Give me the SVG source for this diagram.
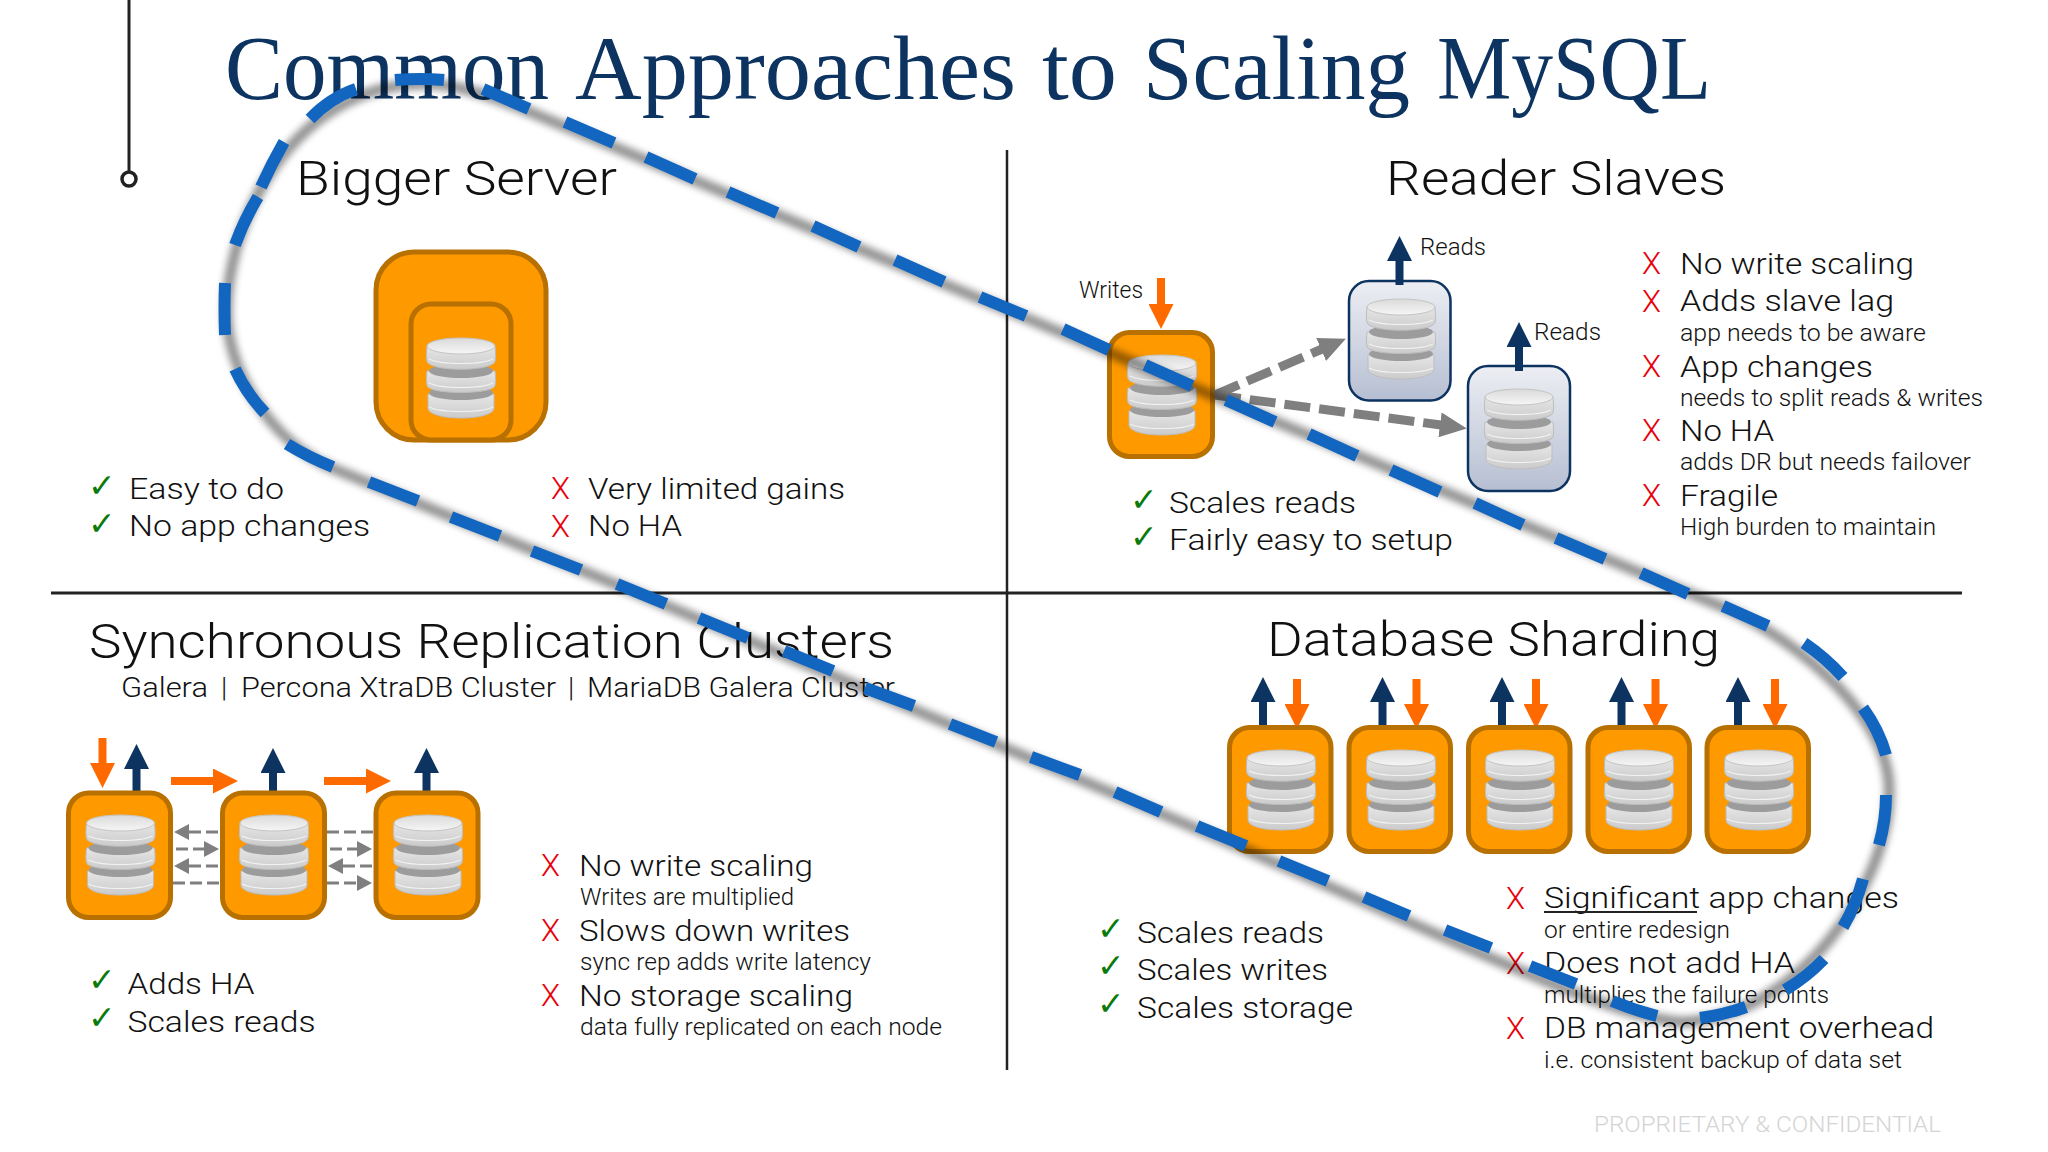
<svg xmlns="http://www.w3.org/2000/svg" width="2048" height="1152" viewBox="0 0 2048 1152">
<style>
text{font-family:Roboto,"Liberation Sans",sans-serif;font-weight:300;fill:#111;}
.title{font-family:"Liberation Serif",serif;font-weight:400;font-size:90px;fill:#0d3360;}
.h{font-size:48px;}
.m{font-size:30px;}
.s{font-size:23px;}
.x{font-size:31px;fill:#e8000a;}
.c{font-family:"DejaVu Sans",sans-serif;font-weight:400;font-size:33px;fill:#0a7a0a;}
.foot{font-size:22px;fill:#d4d4d4;}
.node{fill:#ff9900;stroke:#b87000;stroke-width:5;}
.slave{fill:url(#sl);stroke:#0d3360;stroke-width:2.5;}
.rule{stroke:#222;fill:none;}
.up{stroke:#0d3360;stroke-width:8;marker-end:url(#hn);}
.dn{stroke:#ff6a00;stroke-width:8;marker-end:url(#ho);}
.gb{stroke:#7f7f7f;stroke-width:9;stroke-dasharray:26 9;marker-end:url(#hg);fill:none;}
.gs{stroke:#7f7f7f;stroke-width:3;stroke-dasharray:12 5;fill:none;}
.gh{stroke:#7f7f7f;stroke-width:3;stroke-dasharray:12 5;fill:none;marker-end:url(#hs);}
</style>
<defs>
<linearGradient id="sl" x1="0" y1="0" x2="0" y2="1"><stop offset="0" stop-color="#eceef3"/><stop offset="1" stop-color="#b6bfd2"/></linearGradient>
<linearGradient id="dk" x1="0" y1="0" x2="0" y2="1"><stop offset="0" stop-color="#e6e6e6"/><stop offset="1" stop-color="#cbcbcb"/></linearGradient>
<linearGradient id="tp" x1="0" y1="0" x2="0" y2="1"><stop offset="0" stop-color="#dadada"/><stop offset="1" stop-color="#f6f6f6"/></linearGradient>
<filter id="bl" x="-10%" y="-10%" width="120%" height="120%"><feGaussianBlur stdDeviation="3.500"/></filter>
<marker id="hn" viewBox="0 0 25 25" refX="1" refY="12.5" markerUnits="userSpaceOnUse" markerWidth="25" markerHeight="25" orient="auto"><path d="M0 0L25 12.5L0 25Z" fill="#0d3360"/></marker>
<marker id="ho" viewBox="0 0 25 25" refX="1" refY="12.5" markerUnits="userSpaceOnUse" markerWidth="25" markerHeight="25" orient="auto"><path d="M0 0L25 12.5L0 25Z" fill="#ff6a00"/></marker>
<marker id="hg" viewBox="0 0 27 25" refX="1" refY="12.5" markerUnits="userSpaceOnUse" markerWidth="27" markerHeight="25" orient="auto"><path d="M0 0L27 12.5L0 25Z" fill="#7f7f7f"/></marker>
<marker id="hs" viewBox="0 0 15 16" refX="1" refY="8" markerUnits="userSpaceOnUse" markerWidth="15" markerHeight="16" orient="auto"><path d="M0 0L15 8L0 16Z" fill="#7f7f7f"/></marker>
<symbol id="db" width="70" height="80" viewBox="0 0 70 80" overflow="visible">
<path d="M2 56V70C2 76 16 80 35 80S68 76 68 70V56Z" fill="url(#dk)" stroke="#bdbdbd"/>
<path d="M3 69C15 75 55 75 67 69" fill="none" stroke="#f2f2f2" stroke-width="1.200"/>
<ellipse cx="35" cy="55" rx="32" ry="7" fill="#9c9c9c"/>
<path d="M1 33C0 44 0 48 3 50C14 56 56 56 67 50C70 48 70 44 69 33Z" fill="url(#dk)" stroke="#bdbdbd"/>
<path d="M3 45C15 51 55 51 67 45" fill="none" stroke="#f2f2f2" stroke-width="1.200"/>
<ellipse cx="35" cy="33" rx="32" ry="7" fill="#9c9c9c"/>
<path d="M1 8C0 20 0 24 3 26C14 33 56 33 67 26C70 24 70 20 69 8Z" fill="url(#dk)" stroke="#bdbdbd"/>
<path d="M3 21C15 27 55 27 67 21" fill="none" stroke="#f2f2f2" stroke-width="1.200"/>
<ellipse cx="35" cy="8" rx="34" ry="8" fill="url(#tp)" stroke="#c4c4c4"/>
</symbol>
</defs>
<rect width="2048" height="1152" fill="#fff"/>
<g id="frame">
<line class="rule" x1="129" y1="0" x2="129" y2="172" stroke-width="3"/>
<circle class="rule" cx="129" cy="179" r="7" stroke-width="3.500"/>
<line class="rule" x1="51" y1="593" x2="1962" y2="593" stroke-width="3"/>
<line class="rule" x1="1007" y1="150" x2="1007" y2="1070" stroke-width="2.500"/>
</g>
<text class="title" y="99"><tspan x="225" textLength="324" lengthAdjust="spacingAndGlyphs">Common</tspan> <tspan x="575" textLength="441" lengthAdjust="spacingAndGlyphs">Approaches</tspan> <tspan x="1042" textLength="75" lengthAdjust="spacingAndGlyphs">to</tspan> <tspan x="1143" textLength="267" lengthAdjust="spacingAndGlyphs">Scaling</tspan> <tspan x="1437" textLength="274" lengthAdjust="spacingAndGlyphs">MySQL</tspan></text>

<text class="h" x="296" y="195" textLength="321" lengthAdjust="spacingAndGlyphs">Bigger Server</text>
<g id="bigger-server">
<rect class="node" x="376" y="252" width="170" height="188" rx="38"/>
<rect class="node" x="411" y="304" width="100" height="136" rx="20"/>
<use href="#db" x="426" y="338"/>
</g>
<text class="c" x="88" y="497">✓</text>
<text class="c" x="88" y="535">✓</text>
<text class="m" x="129" y="499" textLength="155" lengthAdjust="spacingAndGlyphs">Easy to do</text>
<text class="m" x="129" y="536" textLength="241" lengthAdjust="spacingAndGlyphs">No app changes</text>
<text class="x" x="551" y="499" textLength="19" lengthAdjust="spacingAndGlyphs">X</text>
<text class="x" x="551" y="537" textLength="19" lengthAdjust="spacingAndGlyphs">X</text>
<text class="m" x="588" y="499" textLength="257" lengthAdjust="spacingAndGlyphs">Very limited gains</text>
<text class="m" x="588" y="536" textLength="94" lengthAdjust="spacingAndGlyphs">No HA</text>

<text class="h" x="1386" y="195" textLength="340" lengthAdjust="spacingAndGlyphs">Reader Slaves</text>
<text class="s" x="1079" y="298" textLength="64" lengthAdjust="spacingAndGlyphs">Writes</text>
<text class="s" x="1420" y="255" textLength="66" lengthAdjust="spacingAndGlyphs">Reads</text>
<text class="s" x="1534" y="340" textLength="67" lengthAdjust="spacingAndGlyphs">Reads</text>
<g id="rs-master">
<rect class="node" x="1109.500" y="332.500" width="103" height="124" rx="20"/>
<use href="#db" x="1127" y="355"/>
</g>
<g id="rs-slave-1">
<rect class="slave" x="1349" y="281" width="101.500" height="119.500" rx="20"/>
<use href="#db" x="1366" y="299"/>
</g>
<g id="rs-slave-2">
<rect class="slave" x="1468" y="366" width="102" height="125" rx="20"/>
<use href="#db" x="1484" y="389"/>
</g>
<g id="rs-connectors">
<line class="dn" x1="1161" y1="278" x2="1161" y2="305"/>
<line class="up" x1="1399.500" y1="285" x2="1399.500" y2="260"/>
<line class="up" x1="1519" y1="371" x2="1519" y2="346"/>
<line class="gb" x1="1215" y1="395" x2="1322" y2="349"/>
<line class="gb" x1="1215" y1="395" x2="1441" y2="425"/>
</g>
<g>
<text class="x" x="1642" y="274" textLength="19" lengthAdjust="spacingAndGlyphs">X</text>
<text class="x" x="1642" y="312" textLength="19" lengthAdjust="spacingAndGlyphs">X</text>
<text class="x" x="1642" y="377" textLength="19" lengthAdjust="spacingAndGlyphs">X</text>
<text class="x" x="1642" y="441" textLength="19" lengthAdjust="spacingAndGlyphs">X</text>
<text class="x" x="1642" y="506" textLength="19" lengthAdjust="spacingAndGlyphs">X</text>
<text class="m" x="1680" y="274" textLength="234" lengthAdjust="spacingAndGlyphs">No write scaling</text>
<text class="m" x="1680" y="311" textLength="214" lengthAdjust="spacingAndGlyphs">Adds slave lag</text>
<text class="s" x="1680" y="341" textLength="246" lengthAdjust="spacingAndGlyphs">app needs to be aware</text>
<text class="m" x="1680" y="377" textLength="193" lengthAdjust="spacingAndGlyphs">App changes</text>
<text class="s" x="1680" y="406" textLength="303" lengthAdjust="spacingAndGlyphs">needs to split reads &amp; writes</text>
<text class="m" x="1680" y="441" textLength="94" lengthAdjust="spacingAndGlyphs">No HA</text>
<text class="s" x="1680" y="470" textLength="291" lengthAdjust="spacingAndGlyphs">adds DR but needs failover</text>
<text class="m" x="1680" y="506" textLength="98" lengthAdjust="spacingAndGlyphs">Fragile</text>
<text class="s" x="1680" y="535" textLength="256" lengthAdjust="spacingAndGlyphs">High burden to maintain</text>
</g>
<text class="c" x="1130" y="511">✓</text>
<text class="c" x="1130" y="548">✓</text>
<text class="m" x="1169" y="513" textLength="187" lengthAdjust="spacingAndGlyphs">Scales reads</text>
<text class="m" x="1169" y="550" textLength="284" lengthAdjust="spacingAndGlyphs">Fairly easy to setup</text>

<text class="h" x="89" y="658" textLength="805" lengthAdjust="spacingAndGlyphs">Synchronous Replication Clusters</text>
<text y="697" font-size="28"><tspan x="121" textLength="87" lengthAdjust="spacingAndGlyphs">Galera</tspan> <tspan x="221">|</tspan> <tspan x="241" textLength="315" lengthAdjust="spacingAndGlyphs">Percona XtraDB Cluster</tspan> <tspan x="568">|</tspan> <tspan x="587" textLength="308" lengthAdjust="spacingAndGlyphs">MariaDB Galera Cluster</tspan></text>
<g id="sync-connectors">
<line class="gh" x1="218" y1="832" x2="188" y2="832"/>
<line class="gh" x1="176" y1="849" x2="205" y2="849"/>
<line class="gh" x1="218" y1="866" x2="188" y2="866"/>
<line class="gs" x1="173" y1="883" x2="220" y2="883"/>
<line class="gs" x1="327" y1="832" x2="373" y2="832"/>
<line class="gh" x1="330" y1="849" x2="358" y2="849"/>
<line class="gh" x1="372" y1="866" x2="342" y2="866"/>
<line class="gh" x1="327" y1="883" x2="358" y2="883"/>
<line class="dn" x1="102.500" y1="738" x2="102.500" y2="764"/>
<line class="up" x1="136.500" y1="791" x2="136.500" y2="768"/>
<line class="up" x1="273" y1="791" x2="273" y2="772"/>
<line class="up" x1="426.500" y1="791" x2="426.500" y2="772"/>
<line class="dn" x1="171" y1="781" x2="214" y2="781"/>
<line class="dn" x1="324" y1="781" x2="367" y2="781"/>
</g>
<g id="sync-1"><rect class="node" x="68.500" y="793" width="102" height="124.500" rx="20"/><use href="#db" x="85.500" y="815"/></g>
<g id="sync-2"><rect class="node" x="222.500" y="793" width="102" height="124.500" rx="20"/><use href="#db" x="239" y="815"/></g>
<g id="sync-3"><rect class="node" x="376" y="793" width="102" height="124.500" rx="20"/><use href="#db" x="393" y="815"/></g>
<text class="c" x="88" y="991">✓</text>
<text class="c" x="88" y="1029">✓</text>
<text class="m" x="127.500" y="994" textLength="127" lengthAdjust="spacingAndGlyphs">Adds HA</text>
<text class="m" x="127.500" y="1032" textLength="188" lengthAdjust="spacingAndGlyphs">Scales reads</text>
<text class="x" x="541" y="876" textLength="19" lengthAdjust="spacingAndGlyphs">X</text>
<text class="x" x="541" y="941" textLength="19" lengthAdjust="spacingAndGlyphs">X</text>
<text class="x" x="541" y="1006" textLength="19" lengthAdjust="spacingAndGlyphs">X</text>
<text class="m" x="579" y="876" textLength="234" lengthAdjust="spacingAndGlyphs">No write scaling</text>
<text class="s" x="580" y="905" textLength="214" lengthAdjust="spacingAndGlyphs">Writes are multiplied</text>
<text class="m" x="579" y="941" textLength="271" lengthAdjust="spacingAndGlyphs">Slows down writes</text>
<text class="s" x="580" y="970" textLength="291" lengthAdjust="spacingAndGlyphs">sync rep adds write latency</text>
<text class="m" x="579" y="1006" textLength="274" lengthAdjust="spacingAndGlyphs">No storage scaling</text>
<text class="s" x="580" y="1035" textLength="362" lengthAdjust="spacingAndGlyphs">data fully replicated on each node</text>

<text class="h" x="1267" y="656" textLength="453" lengthAdjust="spacingAndGlyphs">Database Sharding</text>
<g id="shard-connectors">
<line class="up" x1="1263" y1="725" x2="1263" y2="701"/><line class="dn" x1="1297" y1="679" x2="1297" y2="705"/>
<line class="up" x1="1382.500" y1="725" x2="1382.500" y2="701"/><line class="dn" x1="1416.500" y1="679" x2="1416.500" y2="705"/>
<line class="up" x1="1502" y1="725" x2="1502" y2="701"/><line class="dn" x1="1536" y1="679" x2="1536" y2="705"/>
<line class="up" x1="1621.500" y1="725" x2="1621.500" y2="701"/><line class="dn" x1="1655.500" y1="679" x2="1655.500" y2="705"/>
<line class="up" x1="1738" y1="725" x2="1738" y2="701"/><line class="dn" x1="1775" y1="679" x2="1775" y2="705"/>
</g>
<g id="shard-1"><rect class="node" x="1229.500" y="727.500" width="101.500" height="124" rx="20"/><use href="#db" x="1246" y="750"/></g>
<g id="shard-2"><rect class="node" x="1349" y="727.500" width="101.500" height="124" rx="20"/><use href="#db" x="1366" y="750"/></g>
<g id="shard-3"><rect class="node" x="1468.500" y="727.500" width="101.500" height="124" rx="20"/><use href="#db" x="1485" y="750"/></g>
<g id="shard-4"><rect class="node" x="1588" y="727.500" width="101.500" height="124" rx="20"/><use href="#db" x="1604" y="750"/></g>
<g id="shard-5"><rect class="node" x="1707" y="727.500" width="101.500" height="124" rx="20"/><use href="#db" x="1724" y="750"/></g>
<text class="c" x="1097" y="940">✓</text>
<text class="c" x="1097" y="977">✓</text>
<text class="c" x="1097" y="1015">✓</text>
<text class="m" x="1137" y="943" textLength="187" lengthAdjust="spacingAndGlyphs">Scales reads</text>
<text class="m" x="1137" y="980" textLength="191" lengthAdjust="spacingAndGlyphs">Scales writes</text>
<text class="m" x="1137" y="1018" textLength="216" lengthAdjust="spacingAndGlyphs">Scales storage</text>
<text class="x" x="1506" y="909" textLength="19" lengthAdjust="spacingAndGlyphs">X</text>
<text class="x" x="1506" y="974" textLength="19" lengthAdjust="spacingAndGlyphs">X</text>
<text class="x" x="1506" y="1039" textLength="19" lengthAdjust="spacingAndGlyphs">X</text>
<text class="m" x="1544" y="908" textLength="355" lengthAdjust="spacingAndGlyphs">Significant app changes</text>
<line x1="1544" y1="912" x2="1697" y2="912" stroke="#222" stroke-width="2"/>
<text class="s" x="1544" y="938" textLength="186" lengthAdjust="spacingAndGlyphs">or entire redesign</text>
<text class="m" x="1544" y="973" textLength="251" lengthAdjust="spacingAndGlyphs">Does not add HA</text>
<text class="s" x="1544" y="1003" textLength="285" lengthAdjust="spacingAndGlyphs">multiplies the failure points</text>
<text class="m" x="1544" y="1038" textLength="390" lengthAdjust="spacingAndGlyphs">DB management overhead</text>
<text class="s" x="1544" y="1068" textLength="358" lengthAdjust="spacingAndGlyphs">i.e. consistent backup of data set</text>
<text class="foot" x="1594" y="1132" textLength="347" lengthAdjust="spacingAndGlyphs">PROPRIETARY &amp; CONFIDENTIAL</text>

<g id="scope-outline" fill="none">
<path d="M418 82C455 80 500 98 540 115L1024 316L1723 606C1800 640 1893 720 1887 795C1885 880 1800 1015 1680 1020C1600 1015 1450 935 1160 812L620 585L330 466C270 440 225 370 225 310C225 220 290 85 418 82Z" stroke="#000" stroke-opacity=".42" stroke-width="11" filter="url(#bl)" transform="translate(2 2)"/>
<path stroke="#1266c0" stroke-width="12" d="M310 119Q330 98 356 89M395 80Q420 78 444 80M483 89L529 109M565 122L614 143M646 157L695 179M728 192L777 213M813 226L859 247M895 260L944 282M980 297L1026 316M1063 329L1109 350M1145 365L1192 386M1226 400L1275 422M1309 434L1357 456M1391 470L1440 492M1475 503L1523 525M1556 538L1605 559M1641 573L1688 594M1723 606L1768 626M1804 643Q1826 658 1843 677M1863 708Q1879 730 1886 755M1886 795Q1886 820 1879 845M1863 879Q1856 905 1843 927M1824 959Q1807 977 1785 990M1746 1007Q1724 1015 1700 1018M1657 1016Q1634 1010 1612 1001M1576 984L1530 966M1491 948L1445 930M1409 916L1364 897M1328 881L1279 861M1246 846L1197 826M1161 812L1115 792M1080 775L1031 757M996 742L950 724M914 706L865 688M833 671L784 651M748 638L699 618M666 604L617 584M581 570L532 551M500 536L451 517M418 501L369 482M333 467Q308 457 287 444M265 413Q246 393 235 369M225 335Q224 309 225 283M235 245Q244 220 258 197M261 187Q272 163 284 142"/>
</g>
</svg>
